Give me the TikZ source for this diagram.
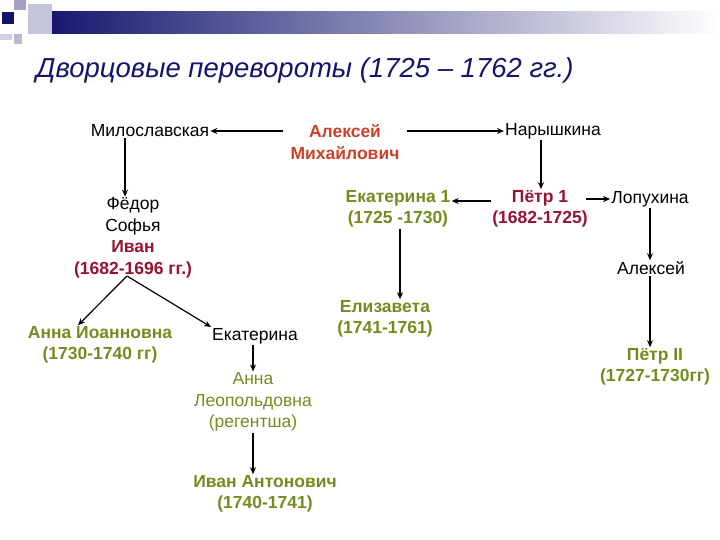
\documentclass[tikz,border=0pt]{standalone}
\usepackage{fontspec}
\setmainfont{Liberation Sans}
\usetikzlibrary{arrows.meta}
\definecolor{navy}{RGB}{20,20,110}
\definecolor{redo}{RGB}{205,65,40}
\definecolor{dred}{RGB}{150,20,50}
\definecolor{olive}{RGB}{115,140,30}
\begin{document}
\begin{tikzpicture}[x=1pt,y=-1pt,
  txt/.style={font=\fontsize{17.5}{21.5}\selectfont,align=center,inner sep=1pt},
  bld/.style={txt,font=\fontsize{17.5}{21.5}\selectfont\bfseries},
  arr/.style={-{Stealth[length=7pt,width=6pt]},line width=1.2pt}]
\useasboundingbox (0,0) rectangle (720,540);
% header decoration
\shade[left color=navy,right color=white] (40,12) rectangle (720,34);
\fill[navy!40] (14,0) rectangle (26,10);
\fill[navy!25] (28,4) rectangle (52,34);
\fill[navy] (2,12) rectangle (14,24);
\fill[navy!30] (14,34) rectangle (22,44);
\fill[navy!20] (0,34) rectangle (12,40);
\node[font=\fontsize{27.5}{30}\selectfont\itshape,text=navy,anchor=west,inner sep=0pt] (title) at (36,70) {Дворцовые перевороты (1725 – 1762 гг.)};
% nodes
\node[txt] (mil) at (150,131) {Милославская};
\node[bld,text=redo] (am) at (345,142) {Алексей\\Михайлович};
\node[txt] (nar) at (553,131) {Нарышкина};
\node[txt] (fam) at (133,238) {Фёдор\\Софья\\\textcolor{dred}{\bfseries Иван}\\\textcolor{dred}{\bfseries (1682-1696 гг.)}};
\node[bld,text=olive] (ek1) at (398,209) {Екатерина 1\\(1725 -1730)};
\node[bld,text=dred] (p1) at (540,209) {Пётр 1\\(1682-1725)};
\node[txt] (lop) at (650,199) {Лопухина};
\node[txt] (alx) at (651,268) {Алексей};
\node[bld,text=olive] (ai) at (100,345) {Анна Иоанновна\\(1730-1740 гг)};
\node[txt] (ek) at (255,336) {Екатерина};
\node[bld,text=olive] (el) at (385,319) {Елизавета\\(1741-1761)};
\node[txt,text=olive] (al) at (253,402) {Анна\\Леопольдовна\\(регентша)};
\node[bld,text=olive] (p2) at (655,367) {Пётр II\\(1727-1730гг)};
\node[bld,text=olive] (ia) at (265,494) {Иван Антонович\\(1740-1741)};
\coordinate (iv) at (127,276);
% arrows
\draw[arr] (am.west |- mil) ++(-6,0) -- (mil.east);
\draw[arr] (am.east |- nar) ++(6,0) -- (nar.west);
\draw[arr] (mil.south -| 125,0) -- (fam.north -| 125,0);
\draw[arr] (nar.south -| 541,0) -- (p1.north -| 541,0);
\draw[arr] (p1.west |- lop) ++(0,2) -- (ek1.east |- 0,201);
\draw[arr] (p1.east |- lop) ++(-3,0) -- (lop.west);
\draw[arr] (ek1.south -| 400,0) -- (el.north -| 400,0);
\draw[arr] (lop.south -| 650,0) -- (alx.north -| 650,0);
\draw[arr] (alx.south -| 650,0) -- (p2.north -| 650,0);
\draw[arr] (iv) -- (ai.north -| 78,0);
\draw[arr] (iv) -- (ek.north west);
\draw[arr] (ek.south -| 253,0) -- (al.north -| 253,0);
\draw[arr] (al.south -| 253,0) -- (ia.north -| 253,0);
\end{tikzpicture}
\end{document}
